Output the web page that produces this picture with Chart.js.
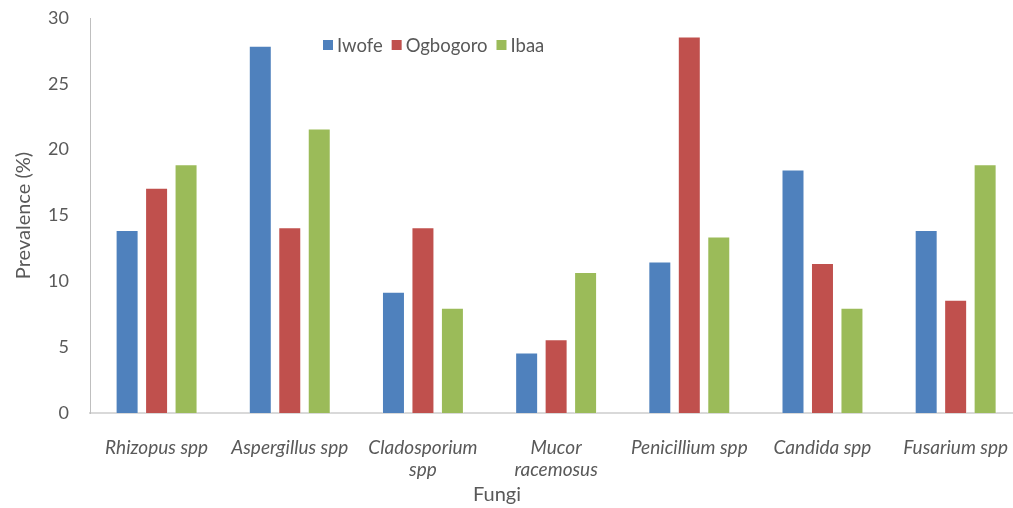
<!DOCTYPE html>
<html>
<head>
<meta charset="utf-8">
<script src="https://cdn.jsdelivr.net/npm/chart.js@4.4.1/dist/chart.umd.min.js"></script>
<style>
    html, body { margin: 0; padding: 0; background: #fff; overflow: hidden; }
    /* plot runs a bit past the right edge, like the cropped original */
    #wrap { width: 1023px; height: 508px; position: relative; }
</style>
</head>
<body>
<div id="wrap"><canvas id="fungiChart"></canvas></div>
<script>
const categories = [
    'Rhizopus spp',
    'Aspergillus spp',
    ['Cladosporium', 'spp'],
    ['Mucor', 'racemosus'],
    'Penicillium spp',
    'Candida spp',
    'Fusarium spp'
];
const seriesNames = ['Iwofe', 'Ogbogoro', 'Ibaa'];
const iwofe = [13.9, 27.9, 9.2, 4.6, 11.5, 18.5, 13.9];
const ogbogoro = [17.1, 14.1, 14.1, 5.6, 28.6, 11.4, 8.6];
const ibaa = [18.9, 21.6, 8.0, 10.7, 13.4, 8.0, 18.9];
const yTicks = [0, 5, 10, 15, 20, 25, 30];

const colors = ['#4f81bd', '#c0504d', '#9bbb59'];
const textColor = '#595959';
const fontFamily = 'Lato, "Open Sans", sans-serif';

// legend + x title drawn inside the plot like the Excel original
const overlay = {
    id: 'overlay',
    afterDraw(chart) {
        const { ctx } = chart;
        ctx.save();
        ctx.font = `18.5px ${fontFamily}`;
        ctx.textBaseline = 'middle';
        let x = 323;
        const y = 45;
        chart.data.datasets.forEach((ds) => {
            ctx.fillStyle = ds.backgroundColor;
            ctx.fillRect(x, y - 5, 10, 10);
            x += 14;
            ctx.fillStyle = textColor;
            ctx.fillText(ds.label, x, y + 1);
            x += ctx.measureText(ds.label).width + 9;
        });
        ctx.textAlign = 'center';
        ctx.font = `20px ${fontFamily}`;
        ctx.fillText('Fungi', 497, 495);
        ctx.restore();
    }
};

const ctx = document.getElementById('fungiChart').getContext('2d');
new Chart(ctx, {
    type: 'bar',
    data: {
        labels: categories,
        datasets: [iwofe, ogbogoro, ibaa].map((vals, i) => ({
            label: seriesNames[i],
            data: vals,
            backgroundColor: colors[i],
            borderColor: 'rgba(255,255,255,0.35)',
            borderWidth: 1,
            categoryPercentage: 0.664,
            barPercentage: 0.78
        }))
    },
    options: {
        responsive: true,
        maintainAspectRatio: false,
        animation: false,
        layout: { padding: { top: 18, right: 0, left: 0, bottom: 0 } },
        plugins: {
            legend: { display: false },
            tooltip: { enabled: false }
        },
        scales: {
            x: {
                grid: { display: false },
                border: { display: true, color: '#d9d9d9', width: 2 },
                ticks: {
                    color: textColor,
                    font: { family: fontFamily, size: 19, style: 'italic' },
                    maxRotation: 0,
                    autoSkip: false,
                    padding: 15
                },
                afterFit: (scale) => { scale.height = 95; }
            },
            y: {
                min: 0,
                max: 30,
                afterBuildTicks: (scale) => { scale.ticks = yTicks.map(v => ({ value: v })); },
                grid: { display: false },
                border: { display: true, color: '#bfbfbf', width: 1 },
                ticks: {
                    color: textColor,
                    font: { family: fontFamily, size: 18 },
                    padding: 13
                },
                title: {
                    display: true,
                    text: 'Prevalence (%)',
                    color: textColor,
                    font: { family: fontFamily, size: 20 },
                    padding: { top: 12, bottom: 0 }
                },
                afterFit: (scale) => {
                    scale.width = 90;
                    scale.paddingTop = 0;
                    scale.paddingBottom = 0;
                }
            }
        }
    },
    plugins: [overlay]
});
</script>
</body>
</html>
